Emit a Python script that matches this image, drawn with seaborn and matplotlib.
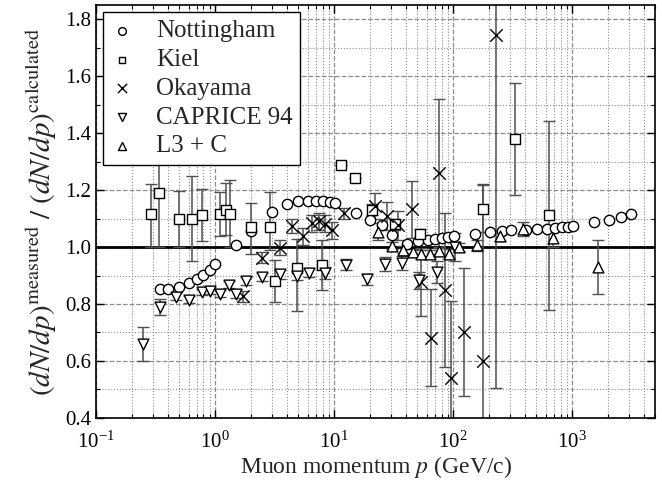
import numpy as np
import matplotlib
matplotlib.use('Agg')
import matplotlib.pyplot as plt
import seaborn as sns
from matplotlib.ticker import MultipleLocator, LogLocator, NullFormatter

# Nottingham
nott_p = [0.347, 0.40, 0.50, 0.60, 0.70, 0.79, 0.90, 1.0, 1.51, 2.0, 3.0, 4.0, 5.0, 6.0, 7.1, 8.1, 9.2, 10.1,
          15.3, 20.0, 25.3, 30.5, 40.8, 51, 61, 70.7, 81, 91, 101, 154, 203, 255, 305, 406, 506, 611, 718,
          817, 918, 1024, 1540, 2050, 2550, 3100]
nott_v = [0.852, 0.853, 0.861, 0.872, 0.887, 0.903, 0.921, 0.94, 1.007, 1.056, 1.123, 1.152, 1.16, 1.161,
          1.161, 1.16, 1.157, 1.154, 1.12, 1.094, 1.076, 1.041, 1.012, 1.02, 1.023, 1.027, 1.03, 1.035,
          1.039, 1.047, 1.053, 1.056, 1.059, 1.061, 1.062, 1.063, 1.067, 1.069, 1.07, 1.073, 1.087, 1.094,
          1.105, 1.117]

# Kiel
kiel_p = [0.289, 0.34, 0.498, 0.64, 0.78, 1.11, 1.24, 1.33, 2.0, 2.87, 3.18, 4.92, 7.85, 11.4, 15.0, 20.7,
          32.5, 53, 179, 334, 643]
kiel_v = [1.115, 1.19, 1.098, 1.10, 1.112, 1.117, 1.131, 1.115, 1.07, 1.07, 0.88, 0.928, 0.936, 1.289, 1.243,
          1.131, 1.08, 1.045, 1.135, 1.379, 1.111]
kiel_hi = [0.107, 0.19, 0.10, 0.15, 0.09, 0.076, 0.094, 0.12, 0.084, 0.123, 0.073, 0.10, 0.087, 0.0, 0.0,
           0.02, 0.02, 0.02, 0.081, 0.195, 0.332]
kiel_lo = [0.115, 0.19, 0.098, 0.15, 0.09, 0.077, 0.09, 0.115, 0.095, 0.08, 0.073, 0.154, 0.086, 0.0, 0.0,
           0.02, 0.02, 0.02, 0.081, 0.198, 0.333]

# Okayama
oka_p = [1.73, 2.46, 3.5, 4.47, 5.5, 6.5, 7.5, 8.4, 9.6, 12.2, 22, 27.9, 34.7, 45, 54, 65.5, 75.4, 86, 96.7,
         124, 179, 227]
oka_v = [0.827, 0.963, 0.998, 1.073, 1.038, 1.084, 1.091, 1.082, 1.059, 1.118, 1.143, 1.108, 1.076, 1.133,
         0.877, 0.682, 1.26, 0.848, 0.54, 0.702, 0.60, 1.745]
oka_err = [0.02, 0.02, 0.025, 0.025, 0.03, 0.03, 0.03, 0.03, 0.03, 0.02, 0.045, 0.05, 0.05, 0.10, 0.12, 0.17,
           0.26, 0.27, 0.27, 0.225, 0.62, 1.24]

# CAPRICE 94
cap_p = [0.247, 0.347, 0.47, 0.61, 0.77, 0.91, 1.1, 1.30, 1.49, 1.83, 2.5, 3.5, 4.86, 6.2, 8.4, 12.6, 18.9,
         27, 37, 52, 73, 104]
cap_v = [0.661, 0.79, 0.825, 0.815, 0.842, 0.846, 0.836, 0.868, 0.835, 0.88, 0.895, 0.904, 0.90, 0.909, 0.909,
         0.938, 0.887, 0.94, 0.945, 0.883, 0.912, 1.0]
cap_err = [0.06, 0.027, 0.012, 0.012, 0.012, 0.012, 0.012, 0.012, 0.015, 0.015, 0.015, 0.015, 0.015, 0.015,
           0.02, 0.02, 0.02, 0.025, 0.025, 0.03, 0.04, 0.05]

# L3 + C
l3_p = [23.2, 30.5, 37.6, 46, 54, 64, 75.5, 91.5, 113, 160, 250, 389, 695, 1633]
l3_v = [1.053, 1.004, 0.99, 0.982, 0.977, 0.977, 0.986, 0.977, 1.0, 1.006, 1.04, 1.062, 1.03, 0.93]
l3_err = [0.03, 0.012, 0.012, 0.012, 0.012, 0.012, 0.012, 0.015, 0.015, 0.02, 0.02, 0.025, 0.03, 0.096]

sns.set_style('ticks')
plt.rcParams['font.family'] = ['Liberation Serif', 'DejaVu Serif']
plt.rcParams['mathtext.fontset'] = 'stix'

fig = plt.figure(figsize=(6.62, 4.86), dpi=100)
ax = fig.add_axes([0.145, 0.14, 0.845, 0.85])

ecol = '#505050'
ax.errorbar(kiel_p, kiel_v, yerr=[kiel_lo, kiel_hi], fmt='none', ecolor=ecol, elinewidth=1.1, capsize=4, zorder=2)
ax.errorbar(oka_p, oka_v, yerr=oka_err, fmt='none', ecolor=ecol, elinewidth=1.1, capsize=4, zorder=2)
ax.errorbar(cap_p, cap_v, yerr=cap_err, fmt='none', ecolor=ecol, elinewidth=1.1, capsize=4, zorder=2)
ax.errorbar(l3_p, l3_v, yerr=l3_err, fmt='none', ecolor=ecol, elinewidth=1.1, capsize=4, zorder=2)

ax.axhline(1.0, color='black', lw=2, zorder=1.5)

kw = dict(facecolor='white', edgecolor='black', linewidth=1.0, ax=ax, zorder=3)
sns.scatterplot(x=nott_p, y=nott_v, marker='o', s=55, label='Nottingham', **kw)
sns.scatterplot(x=kiel_p, y=kiel_v, marker='s', s=45, label='Kiel', **kw)
sns.scatterplot(x=oka_p, y=oka_v, marker='x', s=80, color='black', linewidth=1.0, ax=ax, zorder=3,
                label='Okayama')
sns.scatterplot(x=cap_p, y=cap_v, marker='v', s=60, label='CAPRICE 94', **kw)
sns.scatterplot(x=l3_p, y=l3_v, marker='^', s=60, label='L3 + C', **kw)

ax.set_xscale('log')
ax.set_xlim(0.1, 5000)
ax.set_ylim(0.4, 1.85)
ax.yaxis.set_major_locator(MultipleLocator(0.2))
ax.yaxis.set_minor_locator(MultipleLocator(0.1))
ax.yaxis.set_major_formatter(plt.FormatStrFormatter('%.1f'))
ax.xaxis.set_major_locator(LogLocator(base=10, numticks=10))
ax.xaxis.set_minor_locator(LogLocator(base=10, subs=np.arange(2, 10), numticks=20))
ax.xaxis.set_minor_formatter(NullFormatter())

ax.grid(which='major', ls='--', color='#8c8c8c', lw=0.9)
ax.grid(which='minor', ls=':', color='#8c8c8c', lw=0.8)
ax.set_axisbelow(True)

ax.tick_params(which='both', direction='in', top=True, right=True, colors='black')
ax.tick_params(which='major', length=6, width=1, labelsize=15)
ax.tick_params(axis='x', which='major', pad=10)
ax.tick_params(which='minor', length=3, width=0.8)
for s in ax.spines.values():
    s.set_color('black')
    s.set_linewidth(1.2)

ax.set_xlabel(r'Muon momentum $p$ (GeV/c)', fontsize=17, labelpad=1)
ax.set_ylabel(r'$(dN/dp)^{\rm measured}\ /\ (dN/dp)^{\rm calculated}$', fontsize=21, labelpad=4)

leg = ax.legend(loc='upper left', fontsize=18, frameon=True, fancybox=False, edgecolor='black',
                framealpha=1, borderaxespad=0.3, handletextpad=0.9, labelspacing=0.25, borderpad=0.3,
                handlelength=0.9, markerscale=0.75)
leg.get_frame().set_linewidth(1.0)
leg.set_zorder(10)

fig.savefig('out.png', dpi=100)
